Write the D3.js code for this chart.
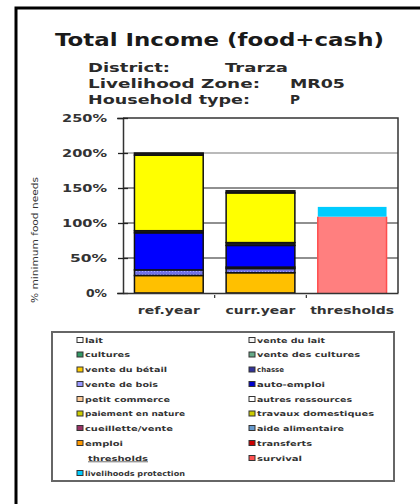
<!DOCTYPE html>
<html><head><meta charset="utf-8">
<script src="https://cdn.jsdelivr.net/npm/d3@7"></script>
<style>body{margin:0;background:#fff}svg{display:block}text{font-family:"DejaVu Sans",Verdana,sans-serif}</style>
</head><body><svg id="c" width="420" height="504"></svg>
<script>
// ---- data ----
const categories = ["ref.year", "curr.year", "thresholds"];
const seriesKeys = ["vente du bétail","vente de bois","transferts","auto-emploi","cueillette/vente","travaux domestiques","lait","survival","livelihoods protection"];
const seriesColors = ["#FFC000","url(#lav)","#262626","#0000FF","#262626","#FFFF00","#262626","#FF7F7F","#00CCFF"];
const refYear   = [25, 8, 0, 53, 3, 108, 3, 0, 0];
const currYear  = [29, 6, 2, 31, 4, 71, 3, 0, 0];
const thresholds= [0, 0, 0, 0, 0, 0, 0, 109, 14];
const yTicks = [0, 50, 100, 150, 200, 250];
const legendLeft  = ["lait","cultures","vente du bétail","vente de bois","petit commerce","paiement en nature","cueillette/vente","emploi"];
const legendLeftColors = ["#FFFFFF","#339966","#FFCC00","#9999FF","#FFCC99","#CCCC00","#993366","#FF9900"];
const legendRight = ["vente du lait","vente des cultures","chasse","auto-emploi","autres ressources","travaux domestiques","aide alimentaire","transferts","survival"];
const legendRightColors = ["#F4F4F4","#66AA88","#333399","#0000CC","#FFFFFF","#CCCC00","#6699CC","#CC0000","#FF5050"];
const thresholdHeading = "thresholds";
const thresholdItems = ["livelihoods protection"];
const thresholdColors = ["#00CCFF"];

const svg = d3.select("#c");
const defs = svg.append("defs");
const pat = defs.append("pattern").attr("id","lav").attr("width",3).attr("height",3).attr("patternUnits","userSpaceOnUse");
pat.append("rect").attr("width",3).attr("height",3).attr("fill","#7373E6");
pat.append("rect").attr("x",1).attr("y",1).attr("width",1).attr("height",1).attr("fill","#A8A8FF");

// outer frame
svg.append("path").attr("d","M16,504 L16,8 L420,8").attr("fill","none").attr("stroke","#000").attr("stroke-width",3);

// title & subtitles
function txt(s, x, y, size, len, opts={}) {
  const t = svg.append("text").attr("x",x).attr("y",y).attr("font-size",size)
    .attr("font-weight", opts.weight || "bold").attr("fill", opts.fill || "#1a1a1a").text(s);
  if (len) t.attr("textLength",len).attr("lengthAdjust","spacingAndGlyphs");
  if (opts.anchor) t.attr("text-anchor",opts.anchor);
  return t;
}
txt("Total Income (food+cash)", 55, 46, 18, 329);
txt("District:", 88, 72, 13, 82, {fill:"#2a2a2a"});
txt("Trarza", 225, 72, 13, 63, {fill:"#2a2a2a"});
txt("Livelihood Zone:", 88, 88, 13, 172, {fill:"#2a2a2a"});
txt("MR05", 290, 88, 13, 55, {fill:"#2a2a2a"});
txt("Household type:", 88, 104, 13, 162, {fill:"#2a2a2a"});
txt("P", 290, 104, 13, 10, {fill:"#2a2a2a"});

// scales
const x = d3.scaleBand().domain(categories).range([123, 398]).paddingInner(0.25).paddingOuter(0.125);
const y = d3.scaleLinear().domain([0, 250]).range([293, 118]);

// gridlines
svg.append("g").selectAll("line").data(yTicks.filter(d=>d>0 && d<250)).join("line")
  .attr("x1",123).attr("x2",398).attr("y1",d=>y(d)).attr("y2",d=>y(d))
  .attr("stroke",d=>d===200?"#777":"#222").attr("stroke-width",1.2);

// stacked bars
const rows = categories.map((c,i)=>{
  const vals = [refYear,currYear,thresholds][i];
  const o = {cat:c}; seriesKeys.forEach((k,j)=>o[k]=vals[j]); return o;
});
const stacked = d3.stack().keys(seriesKeys)(rows);
svg.append("g").selectAll("g").data(stacked).join("g")
  .attr("fill",(d,i)=>seriesColors[i])
  .selectAll("rect").data(d=>d.filter(s=>s[1]-s[0]>0)).join("rect")
  .attr("x",d=>x(d.data.cat)).attr("width",x.bandwidth())
  .attr("y",d=>y(d[1])).attr("height",d=>y(d[0])-y(d[1]))
  .attr("stroke",d=>d.data.cat==="thresholds"?"none":"#111")
  .attr("stroke-width",1.5);
// pink edge on thresholds survival
const surv = stacked[seriesKeys.indexOf("survival")].find(s=>s.data.cat==="thresholds");
svg.append("g").selectAll("line").data([x("thresholds"), x("thresholds")+x.bandwidth()]).join("line")
  .attr("x1",d=>d).attr("x2",d=>d).attr("y1",y(surv[1])).attr("y2",y(surv[0]))
  .attr("stroke","#FF4D4D").attr("stroke-width",1.5);

// plot frame (top and right)
svg.append("path").attr("d",`M123,${y(250)} L398,${y(250)} L398,${y(0)}`).attr("fill","none").attr("stroke","#333").attr("stroke-width",1.5);

// y axis
const yAxis = d3.axisLeft(y).tickValues(yTicks).tickFormat(d=>d+"%").tickSize(6).tickPadding(10);
const ga = svg.append("g").attr("transform","translate(123,0)").call(yAxis);
ga.select(".domain").attr("stroke","#333").attr("stroke-width",1.5);
ga.selectAll(".tick line").attr("stroke","#222").attr("x2",-5).attr("x1",5).attr("stroke-width",1.3);
ga.selectAll(".tick text").attr("font-size",10).attr("font-weight","bold").attr("fill","#333")
  .attr("font-family","DejaVu Sans, sans-serif")
  .each(function(d){ const s=String(d).length; d3.select(this).attr("textLength", s===3?45:s===2?37:21).attr("lengthAdjust","spacingAndGlyphs"); });

// x axis
const xAxis = d3.axisBottom(x).tickSize(0).tickPadding(13);
const gx = svg.append("g").attr("transform",`translate(0,${y(0)})`).call(xAxis);
gx.select(".domain").attr("stroke","#333").attr("stroke-width",1.5);
gx.selectAll(".tick text").attr("font-size",11).attr("font-weight","bold").attr("fill","#333")
  .attr("font-family","DejaVu Sans, sans-serif")
  .each(function(d){ d3.select(this).attr("textLength", d==="thresholds"?84:d==="curr.year"?70:62).attr("lengthAdjust","spacingAndGlyphs"); });
// category separator ticks
const sep = categories.slice(1).map(c=>x(c)-x.step()*x.paddingInner()/2);
gx.selectAll(".sep").data(sep).join("line").attr("class","sep")
  .attr("x1",d=>d).attr("x2",d=>d).attr("y1",2).attr("y2",5).attr("stroke","#333").attr("stroke-width",1.2);

// y label
svg.append("text").attr("transform","translate(38,240) rotate(-90)").attr("text-anchor","middle")
  .attr("font-size",8).attr("fill","#333").attr("textLength",126).attr("lengthAdjust","spacingAndGlyphs")
  .text("% minimum food needs");

// legend
svg.append("rect").attr("x",52).attr("y",332).attr("width",342).attr("height",149)
  .attr("fill","#fff").attr("stroke","#666").attr("stroke-width",2);
const rowY = [340,354.5,369.5,384,399,413.5,428,443,458,473];
const leftLens = [18,45,82,73,85,100,88,38];
const rightLens = [68,103,27,68,95,117,87,55,45];
function legItem(label, color, sx, ty, len) {
  svg.append("rect").attr("x",sx).attr("y",ty-2.5).attr("width",6).attr("height",5)
    .attr("fill",color).attr("stroke","#333").attr("stroke-width",1);
  svg.append("text").attr("x",sx+8).attr("y",ty+2.5).attr("font-size",7).attr("font-weight","bold")
    .attr("fill","#333").attr("textLength",len).attr("lengthAdjust","spacingAndGlyphs").text(label);
}
legendLeft.forEach((l,i)=>legItem(l, legendLeftColors[i], 77, rowY[i], leftLens[i]));
legendRight.forEach((l,i)=>legItem(l, legendRightColors[i], 249, rowY[i], rightLens[i]));
svg.append("text").attr("x",88).attr("y",rowY[8]+2.5).attr("font-size",7).attr("font-weight","bold")
  .attr("fill","#333").attr("text-decoration","underline").attr("textLength",60).attr("lengthAdjust","spacingAndGlyphs").text(thresholdHeading);
thresholdItems.forEach((l,i)=>legItem(l, thresholdColors[i], 77, rowY[9+i], 100));
</script></body></html>
